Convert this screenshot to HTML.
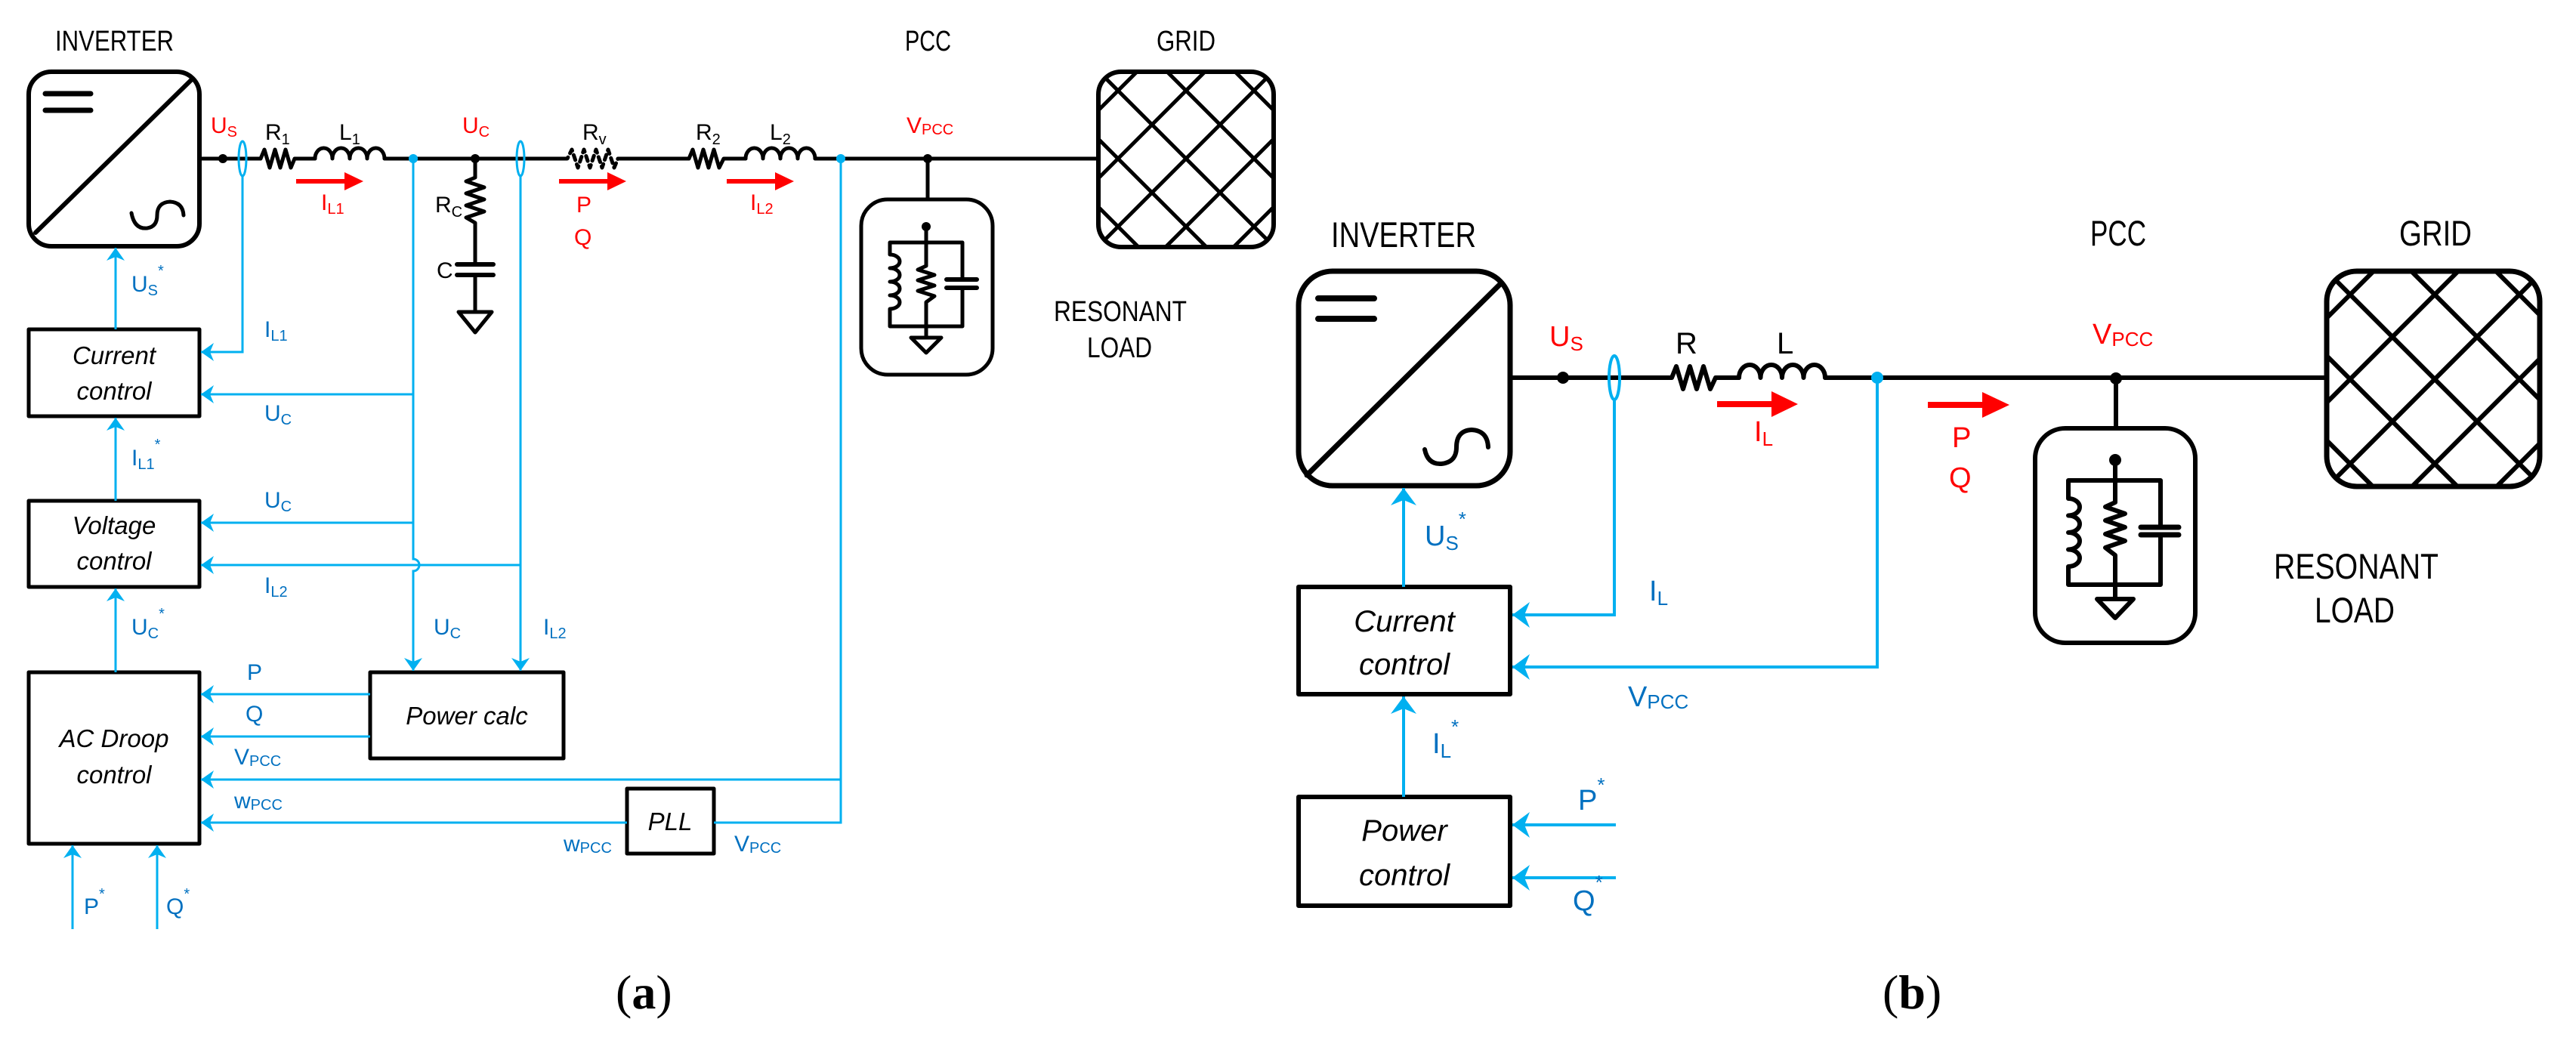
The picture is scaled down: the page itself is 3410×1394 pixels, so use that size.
<!DOCTYPE html>
<html><head><meta charset="utf-8"><style>
html,body{margin:0;padding:0;background:#fff;}
svg{display:block;}
text{font-family:"Liberation Sans",sans-serif;}
.bl{fill:#0070C0;}
.rd{fill:#FF0000;}
.it{font-style:italic;}
</style></head><body>
<svg width="3410" height="1394" viewBox="0 0 3410 1394" xmlns="http://www.w3.org/2000/svg">
<defs>
<marker id="ba" viewBox="-18 -13 20 26" markerWidth="20" markerHeight="26" refX="0" refY="0" markerUnits="userSpaceOnUse" orient="auto">
<path d="M0,0 L-17,-12 L-12,0 L-17,12 Z" fill="#00B0F0"/></marker>
<marker id="bb" viewBox="-24 -18 26 36" markerWidth="26" markerHeight="36" refX="0" refY="0" markerUnits="userSpaceOnUse" orient="auto">
<path d="M0,0 L-23,-17 L-16,0 L-23,17 Z" fill="#00B0F0"/></marker>
<clipPath id="ga"><rect x="1454" y="95" width="232" height="232" rx="30"/></clipPath>
<clipPath id="gb"><rect x="3080" y="359" width="282" height="285" rx="40"/></clipPath>
</defs>

<!-- ================= (a) ================= -->
<g fill="none" stroke="#000" stroke-width="5" stroke-linejoin="round" stroke-linecap="round">
<rect x="38" y="95" width="226" height="231" rx="30" stroke-width="6"/>
<path d="M60 124 L120 124 M60 146 L120 146" stroke-width="7"/>
<path d="M253 106 L47 308" stroke-width="6"/>
<path d="M174 282 Q178 304 195 302 Q208 300 208 285 Q208 268 225 267 Q242 268 243 285" stroke-width="5"/>
<path d="M264 210 L340 210 M394 210 L417 210 M509 210 L746 210 M822 210 L907 210 M964 210 L987 210 M1079 210 L1454 210"/>
<path d="M340 210 L345 210 L350 198 L357 222 L364 198 L371 222 L378 198 L385 222 L390 210 L394 210"/>
<path d="M417 210 a11.5 14 0 0 1 23 0 a11.5 14 0 0 1 23 0 a11.5 14 0 0 1 23 0 a11.5 14 0 0 1 23 0"/>
<path d="M746 210 L751 210 L757 198 L765 222 L773 198 L781 222 L789 198 L797 222 L805 198 L813 222 L818 210 L822 210" stroke-dasharray="7 6"/>
<path d="M907 210 L912 210 L917 198 L924 222 L931 198 L938 222 L945 198 L952 222 L958 210 L964 210"/>
<path d="M987 210 a11.5 14 0 0 1 23 0 a11.5 14 0 0 1 23 0 a11.5 14 0 0 1 23 0 a11.5 14 0 0 1 23 0"/>
<path d="M629 210 L629 235 L617 240 L641 248 L617 256 L641 264 L617 272 L641 280 L617 288 L629 295 L629 350"/>
<path d="M605 350 L653 350 M605 364 L653 364" stroke-width="6"/>
<path d="M629 364 L629 413 M607 413 L651 413 L629 440 Z"/>
<path d="M1228 210 L1228 264"/>
<rect x="1140" y="264" width="174" height="232" rx="35"/>
<path d="M1226 300 L1226 352 L1215 357 L1237 364 L1215 371 L1237 378 L1215 385 L1237 392 L1226 400 L1226 447"/>
<path d="M1226 321 L1178 321 L1178 337 a13 9 0 0 1 0 18 a13 9 0 0 1 0 18 a13 9 0 0 1 0 18 a13 9 0 0 1 0 18 L1178 432 L1274 432 L1274 381 M1274 370 L1274 321 L1226 321"/>
<path d="M1253 370 L1293 370 M1253 381 L1293 381" stroke-width="6"/>
<path d="M1206 447 L1246 447 L1226 467 Z"/>
<g clip-path="url(#ga)" stroke-width="5">
<path d="M1000 -360 L1900 540 M1090 -360 L1990 540 M1180 -360 L2080 540 M1270 -360 L2170 540 M1360 -360 L2260 540 M910 -360 L1810 540 M820 -360 L1720 540"/>
<path d="M1780 0 L1280 500 M1870 0 L1370 500 M1960 0 L1460 500 M2050 0 L1550 500 M1690 0 L1190 500 M1600 0 L1100 500 M2140 0 L1640 500"/>
</g>
<rect x="1454" y="95" width="232" height="232" rx="30" stroke-width="6"/>
<rect x="38" y="436" width="226" height="115"/>
<rect x="38" y="663" width="226" height="114"/>
<rect x="38" y="890" width="226" height="227"/>
<rect x="490" y="890" width="256" height="114"/>
<rect x="830" y="1044" width="115" height="86"/>
</g>
<g fill="#000">
<circle cx="295" cy="210" r="6"/><circle cx="629" cy="210" r="6"/><circle cx="1228" cy="210" r="6"/><circle cx="1226" cy="300" r="6"/>
</g>
<g fill="#FF0000" stroke="none">
<rect x="392" y="237" width="66" height="6"/><path d="M456 228 L481 240 L456 252 Z"/>
<rect x="740" y="237" width="66" height="6"/><path d="M804 228 L829 240 L804 252 Z"/>
<rect x="962" y="237" width="66" height="6"/><path d="M1026 228 L1051 240 L1026 252 Z"/>
</g>
<g fill="none" stroke="#00B0F0" stroke-width="3">
<ellipse cx="321" cy="210" rx="5" ry="23"/>
<ellipse cx="689" cy="210" rx="5" ry="23"/>
<path d="M321 233 L321 466 L266 466" marker-end="url(#ba)"/>
<path d="M547 210 L547 740 a8 8 0 0 1 0 16 L547 888" marker-end="url(#ba)"/>
<path d="M547 522 L266 522" marker-end="url(#ba)"/>
<path d="M547 692 L266 692" marker-end="url(#ba)"/>
<path d="M689 233 L689 888" marker-end="url(#ba)"/>
<path d="M689 748 L266 748" marker-end="url(#ba)"/>
<path d="M490 919 L266 919" marker-end="url(#ba)"/>
<path d="M490 975 L266 975" marker-end="url(#ba)"/>
<path d="M1113 210 L1113 1089 L945 1089"/>
<path d="M1113 1032 L266 1032" marker-end="url(#ba)"/>
<path d="M830 1089 L266 1089" marker-end="url(#ba)"/>
<path d="M153 436 L153 328" marker-end="url(#ba)"/>
<path d="M153 663 L153 553" marker-end="url(#ba)"/>
<path d="M153 890 L153 779" marker-end="url(#ba)"/>
<path d="M96 1230 L96 1119" marker-end="url(#ba)"/>
<path d="M208 1230 L208 1119" marker-end="url(#ba)"/>
</g>
<g fill="#00B0F0"><circle cx="547" cy="210" r="6"/><circle cx="1113" cy="210" r="6"/></g>

<g font-size="38" fill="#000">
<text x="73" y="67" textLength="157" lengthAdjust="spacingAndGlyphs">INVERTER</text>
<text x="1198" y="67" textLength="61" lengthAdjust="spacingAndGlyphs">PCC</text>
<text x="1531" y="67" textLength="78" lengthAdjust="spacingAndGlyphs">GRID</text>
<text x="1395" y="425" textLength="176" lengthAdjust="spacingAndGlyphs">RESONANT</text>
<text x="1439" y="473" textLength="86" lengthAdjust="spacingAndGlyphs">LOAD</text>
</g>
<g font-size="30" fill="#000">
<text x="351" y="185">R<tspan font-size="20" dy="6">1</tspan></text>
<text x="449" y="185">L<tspan font-size="20" dy="6">1</tspan></text>
<text x="771" y="185">R<tspan font-size="20" dy="6">v</tspan></text>
<text x="921" y="185">R<tspan font-size="20" dy="6">2</tspan></text>
<text x="1019" y="185">L<tspan font-size="20" dy="6">2</tspan></text>
<text x="576" y="281">R<tspan font-size="20" dy="6">C</tspan></text>
<text x="578" y="368">C</text>
</g>
<g font-size="30" class="rd">
<text x="279" y="176">U<tspan font-size="20" dy="5">S</tspan></text>
<text x="612" y="176">U<tspan font-size="20" dy="5">C</tspan></text>
<text x="425" y="278">I<tspan font-size="20" dy="5">L1</tspan></text>
<text x="763" y="281">P</text>
<text x="760" y="324">Q</text>
<text x="993" y="278">I<tspan font-size="20" dy="5">L2</tspan></text>
<text x="1200" y="176">V<tspan font-size="20" dy="2">PCC</tspan></text>
</g>
<g font-size="30" class="bl">
<text x="174" y="386">U<tspan font-size="20" dy="5">S</tspan><tspan font-size="20" dy="-26">*</tspan></text>
<text x="350" y="446">I<tspan font-size="20" dy="5">L1</tspan></text>
<text x="350" y="557">U<tspan font-size="20" dy="5">C</tspan></text>
<text x="174" y="616">I<tspan font-size="20" dy="5">L1</tspan><tspan font-size="20" dy="-26">*</tspan></text>
<text x="350" y="672">U<tspan font-size="20" dy="5">C</tspan></text>
<text x="350" y="785">I<tspan font-size="20" dy="5">L2</tspan></text>
<text x="174" y="840">U<tspan font-size="20" dy="5">C</tspan><tspan font-size="20" dy="-26">*</tspan></text>
<text x="574" y="840">U<tspan font-size="20" dy="5">C</tspan></text>
<text x="719" y="840">I<tspan font-size="20" dy="5">L2</tspan></text>
<text x="327" y="900">P</text>
<text x="325" y="955">Q</text>
<text x="310" y="1012">V<tspan font-size="20" dy="2">PCC</tspan></text>
<text x="310" y="1070">w<tspan font-size="20" dy="2">PCC</tspan></text>
<text x="746" y="1127">w<tspan font-size="20" dy="2">PCC</tspan></text>
<text x="972" y="1127">V<tspan font-size="20" dy="2">PCC</tspan></text>
<text x="111" y="1210">P<tspan font-size="20" dy="-20">*</tspan></text>
<text x="220" y="1210">Q<tspan font-size="20" dy="-20">*</tspan></text>
</g>
<g font-size="33" fill="#000" class="it" text-anchor="middle">
<text x="151" y="482">Current</text>
<text x="151" y="529">control</text>
<text x="151" y="707">Voltage</text>
<text x="151" y="754">control</text>
<text x="151" y="989">AC Droop</text>
<text x="151" y="1037">control</text>
<text x="618" y="959">Power calc</text>
<text x="887" y="1099">PLL</text>
</g>
<text x="815" y="1335" font-size="64" style="font-family:'Liberation Serif',serif">(<tspan font-weight="bold">a</tspan>)</text>

<!-- ================= (b) ================= -->
<g fill="none" stroke="#000" stroke-width="6" stroke-linejoin="round" stroke-linecap="round">
<rect x="1719" y="359" width="280" height="284" rx="45" stroke-width="7"/>
<path d="M1745 395 L1819 395 M1745 422 L1819 422" stroke-width="8"/>
<path d="M1986 376 L1730 629" stroke-width="7"/>
<path d="M1886 595 Q1890 615 1908 614 Q1928 612 1928 592 Q1928 570 1948 569 Q1969 570 1970 592" stroke-width="6"/>
<path d="M1999 500 L2207 500 M2279 500 L2302 500 M2416 500 L3080 500"/>
<path d="M2207 500 L2213 500 L2219 485 L2228 515 L2237 485 L2246 515 L2255 485 L2264 515 L2271 500 L2279 500"/>
<path d="M2302 500 a14.25 17 0 0 1 28.5 0 a14.25 17 0 0 1 28.5 0 a14.25 17 0 0 1 28.5 0 a14.25 17 0 0 1 28.5 0"/>
<path d="M2801 501 L2801 567"/>
<rect x="2694" y="567" width="212" height="284" rx="40"/>
<path d="M2800 609 L2800 665 L2787 671 L2813 680 L2787 689 L2813 698 L2787 707 L2813 716 L2787 725 L2800 735 L2800 793"/>
<path d="M2800 636 L2738 636 L2738 660 a15 11.25 0 0 1 0 22.5 a15 11.25 0 0 1 0 22.5 a15 11.25 0 0 1 0 22.5 a15 11.25 0 0 1 0 22.5 L2738 774 L2860 774 L2860 708 M2860 698 L2860 636 L2800 636"/>
<path d="M2834 698 L2884 698 M2834 708 L2884 708" stroke-width="7"/>
<path d="M2776 793 L2824 793 L2800 818 Z"/>
<g clip-path="url(#gb)" stroke-width="6">
<path d="M2385 0 L3385 1000 M2497 0 L3497 1000 M2609 0 L3609 1000 M2721 0 L3721 1000 M2833 0 L3833 1000 M2945 0 L3945 1000 M3057 0 L4057 1000 M2273 0 L3273 1000"/>
<path d="M3389 0 L2389 1000 M3501 0 L2501 1000 M3613 0 L2613 1000 M3725 0 L2725 1000 M3837 0 L2837 1000 M3949 0 L2949 1000 M4061 0 L3061 1000 M4173 0 L3173 1000"/>
</g>
<rect x="3080" y="359" width="282" height="285" rx="40" stroke-width="7"/>
<rect x="1719" y="777" width="280" height="142"/>
<rect x="1719" y="1055" width="280" height="144"/>
</g>
<g fill="#000"><circle cx="2069" cy="500" r="8"/><circle cx="2801" cy="501" r="8"/><circle cx="2800" cy="609" r="8"/></g>
<g fill="#FF0000">
<rect x="2273" y="531" width="76" height="8"/><path d="M2345 518 L2380 535 L2345 552 Z"/>
<rect x="2552" y="532" width="76" height="8"/><path d="M2624 519 L2660 536 L2624 553 Z"/>
</g>
<g fill="none" stroke="#00B0F0" stroke-width="4">
<ellipse cx="2137" cy="500" rx="7" ry="29"/>
<path d="M2137 529 L2137 814 L2002 814" marker-end="url(#bb)"/>
<path d="M2485 500 L2485 883 L2002 883" marker-end="url(#bb)"/>
<path d="M1858 777 L1858 646" marker-end="url(#bb)"/>
<path d="M1858 1055 L1858 922" marker-end="url(#bb)"/>
<path d="M2139 1092 L2002 1092" marker-end="url(#bb)"/>
<path d="M2139 1162 L2002 1162" marker-end="url(#bb)"/>
</g>
<circle cx="2485" cy="500" r="8" fill="#00B0F0"/>
<g font-size="47" fill="#000">
<text x="1762" y="327" textLength="192" lengthAdjust="spacingAndGlyphs">INVERTER</text>
<text x="2767" y="325" textLength="74" lengthAdjust="spacingAndGlyphs">PCC</text>
<text x="3176" y="325" textLength="96" lengthAdjust="spacingAndGlyphs">GRID</text>
<text x="3010" y="766" textLength="218" lengthAdjust="spacingAndGlyphs">RESONANT</text>
<text x="3064" y="824" textLength="106" lengthAdjust="spacingAndGlyphs">LOAD</text>
</g>
<g font-size="40" fill="#000">
<text x="2218" y="468">R</text>
<text x="2352" y="468">L</text>
</g>
<g font-size="38" class="rd">
<text x="2051" y="458">U<tspan font-size="26" dy="6">S</tspan></text>
<text x="2322" y="584">I<tspan font-size="26" dy="6">L</tspan></text>
<text x="2770" y="455">V<tspan font-size="26" dy="3">PCC</tspan></text>
<text x="2584" y="592">P</text>
<text x="2580" y="645">Q</text>
</g>
<g font-size="38" class="bl">
<text x="1886" y="722">U<tspan font-size="26" dy="6">S</tspan><tspan font-size="26" dy="-32">*</tspan></text>
<text x="2183" y="795">I<tspan font-size="26" dy="6">L</tspan></text>
<text x="2155" y="935">V<tspan font-size="26" dy="3">PCC</tspan></text>
<text x="1896" y="997">I<tspan font-size="26" dy="6">L</tspan><tspan font-size="26" dy="-32">*</tspan></text>
<text x="2089" y="1072">P<tspan font-size="26" dy="-24">*</tspan></text>
<text x="2082" y="1205">Q<tspan font-size="26" dy="-28">*</tspan></text>
</g>
<g font-size="40" fill="#000" class="it" text-anchor="middle">
<text x="1859" y="836">Current</text>
<text x="1859" y="893">control</text>
<text x="1859" y="1113">Power</text>
<text x="1859" y="1172">control</text>
</g>
<text x="2492" y="1335" font-size="64" style="font-family:'Liberation Serif',serif">(<tspan font-weight="bold">b</tspan>)</text>
</svg>
</body></html>
